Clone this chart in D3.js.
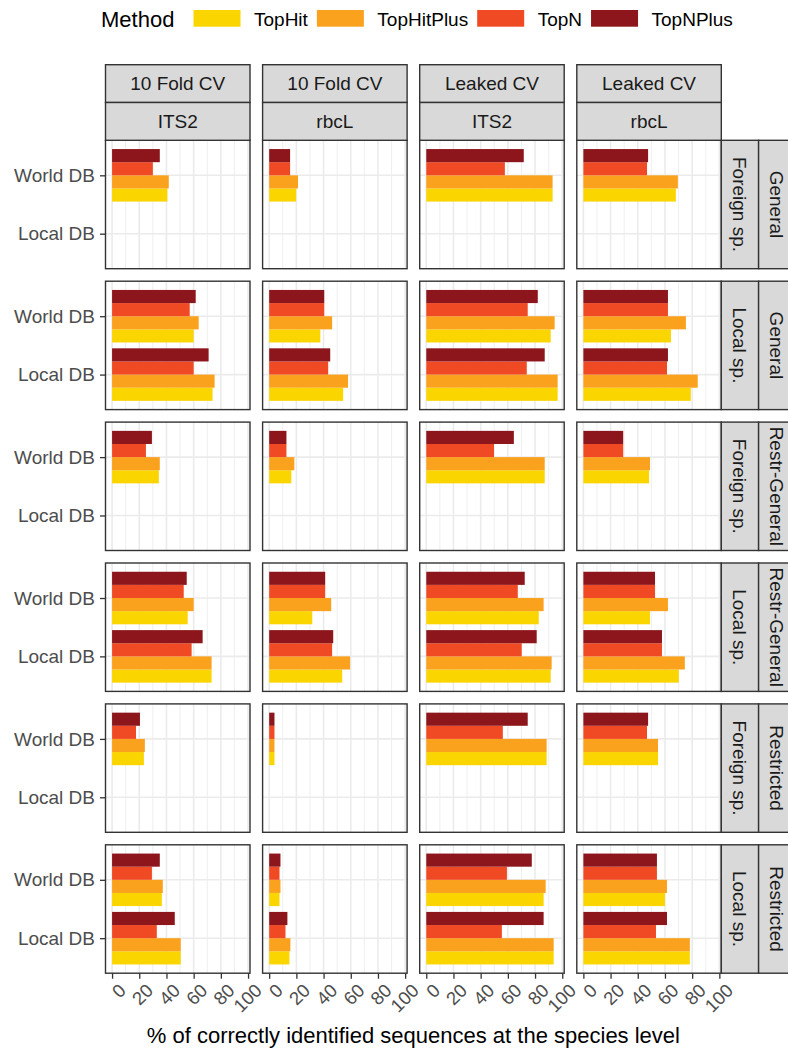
<!DOCTYPE html>
<html>
<head>
<meta charset="utf-8">
<script src="https://cdn.jsdelivr.net/npm/d3@7"></script>
<style>
  body { margin: 0; background: #fff; }
  svg { display: block; font-family: "Liberation Sans", Arial, sans-serif; }
</style>
</head>
<body>
<div id="chart"></div>
<script>
// methods, legend order
const methods = ["TopHit", "TopHitPlus", "TopN", "TopNPlus"];
const colors = ["#FAD500", "#FAA21D", "#F04A24", "#8C161B"];

// facet labels
const validation = ["10 Fold CV", "10 Fold CV", "Leaked CV", "Leaked CV"];
const markers = ["ITS2", "rbcL", "ITS2", "rbcL"];
const species = ["Foreign sp.", "Local sp.", "Foreign sp.", "Local sp.", "Foreign sp.", "Local sp."];
const restriction = ["General", "General", "Restr-General", "Restr-General", "Restricted", "Restricted"];
const databases = ["World DB", "Local DB"];
const xTicks = [0, 20, 40, 60, 80, 100];

// % correct at species level, rows x columns x [World DB, Local DB]
const topHit = [
  [[40.7, null], [19.8, null], [92.9, null], [68.0, null]],
  [[60.0, 73.9], [37.6, 54.4], [91.5, 96.6], [64.4, 79.0]],
  [[34.4, null], [16.3, null], [87.1, null], [48.3, null]],
  [[55.6, 73.2], [31.7, 53.7], [82.7, 91.5], [49.0, 70.2]],
  [[23.4, null], [3.9, null], [88.5, null], [54.9, null]],
  [[36.6, 50.5], [7.6, 14.9], [86.3, 93.7], [60.0, 78.3]]
];
const topHitPlus = [
  [[41.7, null], [21.2, null], [92.9, null], [69.5, null]],
  [[63.7, 75.4], [46.3, 58.0], [94.4, 96.6], [75.4, 84.1]],
  [[35.1, null], [18.5, null], [87.1, null], [49.0, null]],
  [[60.0, 73.2], [45.6, 59.5], [86.3, 92.2], [62.2, 74.6]],
  [[24.1, null], [3.9, null], [88.5, null], [54.9, null]],
  [[37.3, 50.5], [8.3, 15.6], [87.8, 93.7], [61.5, 78.3]]
];
const topN = [
  [[30.0, null], [15.4, null], [57.8, null], [46.8, null]],
  [[57.1, 60.0], [40.5, 43.4], [74.6, 73.9], [62.2, 61.5]],
  [[24.9, null], [12.7, null], [49.8, null], [29.3, null]],
  [[52.7, 58.5], [41.2, 46.3], [67.3, 70.2], [52.7, 57.8]],
  [[17.6, null], [3.9, null], [56.3, null], [46.8, null]],
  [[29.3, 32.9], [7.6, 12.0], [59.3, 55.6], [54.1, 53.4]]
];
const topNPlus = [
  [[35.1, null], [15.4, null], [71.7, null], [47.6, null]],
  [[61.5, 71.0], [40.5, 44.9], [82.0, 87.1], [62.2, 62.2]],
  [[29.3, null], [12.7, null], [64.4, null], [29.3, null]],
  [[54.9, 66.6], [41.2, 47.1], [72.4, 81.2], [52.7, 57.8]],
  [[20.5, null], [3.9, null], [74.6, null], [47.6, null]],
  [[35.1, 46.1], [8.3, 13.4], [77.6, 86.3], [54.1, 61.5]]
];
const series = [topHit, topHitPlus, topN, topNPlus];

const width = 788, height = 1049;
const marginLeft = 105.5, marginTop = 140.3;
const pw = 144.5, ph = 128.4, colStep = 157.1, rowStep = 140.9;
const stripH = 37.8, stripW = 37.3;
const border = "#333333", stripFill = "#D9D9D9", gridCol = "#EBEBEB";

// flat rows for drawing
const rows = [];
series.forEach((s, m) => s.forEach((r, ri) => r.forEach((c, ci) => c.forEach((v, di) => {
  if (v != null) rows.push({ method: methods[m], row: ri, col: ci, db: databases[di], value: v });
}))));

const maxV = d3.max(rows, d => d.value);
const x = d3.scaleLinear().domain([-0.05 * maxV, maxV * 1.05]).range([0, pw]);
const y = d3.scalePoint().domain(databases).range([0, ph]).padding(0.6);
const inner = d3.scaleBand().domain(methods.slice().reverse())
  .range([-0.45 * y.step(), 0.45 * y.step()]);
const color = d3.scaleOrdinal().domain(methods).range(colors);

const svg = d3.select("#chart").append("svg")
  .attr("width", width).attr("height", height);
svg.append("rect").attr("width", width).attr("height", height).attr("fill", "#fff");

// legend
const leg = svg.append("g");
leg.append("text").attr("x", 101).attr("y", 26.5)
  .style("font-size", "22px").attr("fill", "#000").text("Method");
let lx = 193.5;
methods.forEach((m, i) => {
  leg.append("rect").attr("x", lx).attr("y", 10).attr("width", 47).attr("height", 16.7)
    .attr("fill", colors[i]);
  const t = leg.append("text").attr("x", lx + 60.5).attr("y", 26)
    .style("font-size", "19px").attr("fill", "#000").text(m);
  lx = lx + 60.5 + t.node().getComputedTextLength() + 9;
});

for (let r = 0; r < species.length; r++) {
  for (let c = 0; c < markers.length; c++) {
    const g = svg.append("g")
      .attr("transform", `translate(${marginLeft + c * colStep},${marginTop + r * rowStep})`);

    // grid
    const minor = d3.range(10, 100, 20);
    g.selectAll(".minor").data(minor).enter().append("line")
      .attr("x1", d => x(d)).attr("x2", d => x(d)).attr("y1", 0).attr("y2", ph)
      .attr("stroke", gridCol).attr("stroke-width", 0.8);
    g.selectAll(".major").data(xTicks).enter().append("line")
      .attr("x1", d => x(d)).attr("x2", d => x(d)).attr("y1", 0).attr("y2", ph)
      .attr("stroke", gridCol).attr("stroke-width", 1.6);
    g.selectAll(".hgrid").data(databases).enter().append("line")
      .attr("x1", 0).attr("x2", pw).attr("y1", d => y(d)).attr("y2", d => y(d))
      .attr("stroke", gridCol).attr("stroke-width", 1.6);

    // bars
    g.selectAll(".bar").data(rows.filter(d => d.row === r && d.col === c)).enter()
      .append("rect")
      .attr("x", x(0))
      .attr("y", d => y(d.db) + inner(d.method))
      .attr("width", d => x(d.value) - x(0))
      .attr("height", inner.bandwidth())
      .attr("fill", d => color(d.method));

    g.append("rect").attr("width", pw).attr("height", ph)
      .attr("fill", "none").attr("stroke", border).attr("stroke-width", 1.4);

    // y axis on the first column
    if (c === 0) {
      const ay = g.append("g").call(d3.axisLeft(y).tickSize(5.5).tickPadding(5));
      ay.select(".domain").remove();
      ay.selectAll("line").attr("stroke", border).attr("stroke-width", 1.3);
      ay.selectAll("text").style("font-size", "19px").attr("fill", "#4D4D4D");
    }

    // x axis on the last row
    if (r === species.length - 1) {
      const ax = g.append("g").attr("transform", `translate(0,${ph})`)
        .call(d3.axisBottom(x).tickValues(xTicks).tickSize(5.5));
      ax.select(".domain").remove();
      ax.selectAll("line").attr("stroke", border).attr("stroke-width", 1.3);
      ax.selectAll("text")
        .attr("y", 0).attr("dy", "0.72em")
        .attr("text-anchor", "end")
        .attr("transform", "translate(5,9) rotate(-45)")
        .style("font-size", "18.5px").attr("fill", "#4D4D4D");
    }

    // top strips
    if (r === 0) {
      [validation[c], markers[c]].forEach((lab, k) => {
        const sy = -stripH * (2 - k);
        g.append("rect").attr("x", 0).attr("y", sy).attr("width", pw).attr("height", stripH)
          .attr("fill", stripFill).attr("stroke", border).attr("stroke-width", 1.4);
        g.append("text").attr("x", pw / 2).attr("y", sy + stripH / 2).attr("dy", "0.36em")
          .attr("text-anchor", "middle").style("font-size", "19px").attr("fill", "#1A1A1A")
          .text(lab);
      });
    }

    // right strips
    if (c === markers.length - 1) {
      [species[r], restriction[r]].forEach((lab, k) => {
        const sx = pw + stripW * k;
        g.append("rect").attr("x", sx).attr("y", 0).attr("width", stripW).attr("height", ph)
          .attr("fill", stripFill).attr("stroke", border).attr("stroke-width", 1.4);
        g.append("text")
          .attr("transform", `translate(${sx + stripW / 2},${ph / 2}) rotate(90)`)
          .attr("dy", "0.36em").attr("text-anchor", "middle")
          .style("font-size", "19px").attr("fill", "#1A1A1A").text(lab);
      });
    }
  }
}

// x axis title
svg.append("text")
  .attr("x", marginLeft + (3 * colStep + pw) / 2).attr("y", 1043)
  .attr("text-anchor", "middle").style("font-size", "22px").attr("fill", "#000")
  .text("% of correctly identified sequences at the species level");
</script>
</body>
</html>
